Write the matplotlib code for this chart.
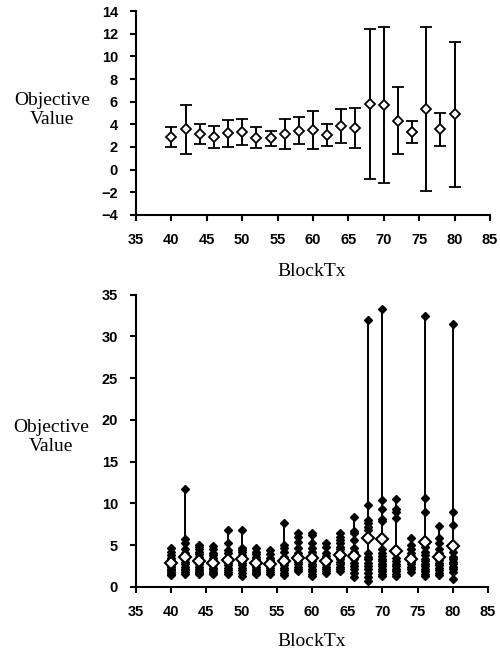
import matplotlib
matplotlib.use("Agg")
import matplotlib.pyplot as plt
import numpy as np

# block sizes on the x axis
block_tx = [40, 42, 44, 46, 48, 50, 52, 54, 56, 58, 60,
            62, 64, 66, 68, 70, 72, 74, 76, 78, 80]

# top panel: mean objective value and error bar half-width
means = [2.85, 3.55, 3.15, 2.88, 3.22, 3.30, 2.82, 2.78, 3.15, 3.45, 3.50,
         3.07, 3.85, 3.68, 5.80, 5.70, 4.32, 3.32, 5.35, 3.55, 4.88]
errs = [0.88, 2.13, 0.91, 0.93, 1.20, 1.13, 0.94, 0.66, 1.31, 1.20, 1.70,
        0.99, 1.50, 1.73, 6.60, 6.90, 2.94, 0.94, 7.25, 1.47, 6.40]

# bottom panel: individual runs for each block size
runs = {
    40: [1.4, 1.6, 1.8, 2.0, 2.2, 2.4, 2.6, 2.8, 3.0, 3.2, 3.5, 3.8, 4.2, 4.6],
    42: [1.6, 1.8, 2.0, 2.2, 2.4, 2.7, 3.0, 3.3, 3.6, 4.0, 4.5, 5.2, 5.7, 11.7],
    44: [1.5, 1.7, 1.9, 2.1, 2.4, 2.7, 3.0, 3.3, 3.6, 3.9, 4.2, 4.5, 4.8, 5.0],
    46: [1.5, 1.7, 1.9, 2.1, 2.3, 2.6, 2.9, 3.2, 3.5, 3.8, 4.1, 4.5, 4.9],
    48: [1.6, 1.8, 2.0, 2.3, 2.6, 2.9, 3.2, 3.5, 4.0, 4.4, 5.2, 6.8],
    50: [1.3, 1.7, 2.0, 2.3, 2.6, 2.9, 3.2, 3.5, 3.8, 4.2, 4.4, 4.6, 6.8],
    52: [1.5, 1.7, 1.9, 2.1, 2.4, 2.7, 3.0, 3.3, 3.6, 3.9, 4.2, 4.6],
    54: [1.6, 1.8, 2.0, 2.3, 2.6, 2.9, 3.2, 3.5, 3.9, 4.4],
    56: [1.4, 1.7, 2.0, 2.3, 2.6, 2.9, 3.2, 3.6, 4.2, 4.6, 5.0, 7.6],
    58: [1.9, 2.1, 2.4, 2.7, 3.0, 3.3, 3.7, 4.1, 4.6, 5.4, 6.0, 6.4],
    60: [1.3, 1.6, 1.9, 2.2, 2.5, 2.8, 3.1, 3.4, 3.8, 4.2, 4.6, 5.2, 6.2, 6.5],
    62: [1.7, 1.9, 2.1, 2.4, 2.7, 3.0, 3.3, 3.7, 4.1, 4.8, 5.2],
    64: [1.9, 2.1, 2.4, 2.7, 3.0, 3.3, 3.6, 3.9, 4.2, 4.5, 4.8, 5.2, 5.6, 6.0, 6.5],
    66: [1.2, 1.7, 2.1, 2.5, 2.9, 3.3, 3.8, 4.2, 4.7, 5.6, 6.4, 6.7, 8.4],
    68: [0.7, 1.2, 1.7, 2.1, 2.5, 2.9, 3.3, 3.6, 4.0, 6.8, 7.2, 7.6, 8.0, 9.8, 32.0],
    70: [1.3, 1.6, 1.9, 2.2, 2.5, 2.8, 3.1, 3.4, 3.7, 4.0, 4.5, 7.9, 8.1, 9.3, 10.4, 33.3],
    72: [1.3, 1.6, 1.9, 2.2, 2.5, 2.8, 3.1, 3.5, 8.2, 9.0, 9.3, 10.5],
    74: [1.8, 2.1, 2.4, 2.7, 3.0, 3.3, 3.7, 4.1, 4.5, 5.0, 5.8],
    76: [1.3, 1.6, 1.9, 2.2, 2.5, 2.8, 3.1, 3.4, 3.8, 4.2, 4.8, 9.0, 10.6, 32.4],
    78: [1.4, 1.7, 2.0, 2.3, 2.6, 2.9, 3.2, 3.6, 4.0, 4.5, 5.3, 5.8, 7.3],
    80: [1.0, 1.8, 2.1, 2.4, 2.7, 3.0, 3.3, 3.6, 4.2, 7.4, 9.0, 31.5],
}

plt.rcParams['font.family'] = ['Liberation Sans', 'DejaVu Sans']

fig = plt.figure(figsize=(5, 6.55), dpi=100)
ax1 = fig.add_axes([0.272, 0.672, 0.708, 0.311])
ax2 = fig.add_axes([0.272, 0.104, 0.704, 0.446])


def style_axis(ax):
    ax.spines['top'].set_visible(False)
    ax.spines['right'].set_visible(False)
    ax.spines['left'].set_linewidth(1.5)
    ax.spines['bottom'].set_linewidth(1.5)
    ax.tick_params(direction='out', length=4, width=1.5, pad=9, labelsize=10.5)
    for lab in ax.get_xticklabels() + ax.get_yticklabels():
        lab.set_fontweight('bold')
    ax.set_xlim(35, 85)
    ax.set_xticks(range(35, 86, 5))


# top: mean with error bars
ax1.errorbar(block_tx, means, yerr=errs, fmt='D', color='black', mfc='white',
             mec='black', ms=5, mew=1.3, elinewidth=1.4, capsize=4, capthick=1.4)
ax1.set_ylim(-4, 14)
ax1.set_yticks(range(-4, 15, 2))
ax1.set_yticklabels([str(v).replace('-', '\u2212') for v in range(-4, 15, 2)])
style_axis(ax1)

# bottom: all runs, range line and mean
for x in block_tx:
    vals = runs[x]
    ax2.plot([x, x], [min(vals), max(vals)], color='black', lw=1.4, zorder=2)
    ax2.plot([x] * len(vals), vals, 'D', color='black', ms=4.3, zorder=3)
ax2.plot(block_tx, means, 'D', mfc='white', mec='black', ms=6, mew=1.5,
         linestyle='none', zorder=4)
ax2.set_ylim(0, 35)
ax2.set_yticks(range(0, 36, 5))
style_axis(ax2)

serif = ['Liberation Serif', 'DejaVu Serif']
fig.text(0.104, 0.832, 'Objective\nValue', ha='center', va='center',
         family=serif, fontsize=14, linespacing=1.1)
fig.text(0.624, 0.585, 'BlockTx', ha='center', va='center', family=serif, fontsize=14)
fig.text(0.102, 0.333, 'Objective\nValue', ha='center', va='center',
         family=serif, fontsize=14, linespacing=1.1)
fig.text(0.624, 0.020, 'BlockTx', ha='center', va='center', family=serif, fontsize=14)

fig.savefig('out.png', dpi=100)
